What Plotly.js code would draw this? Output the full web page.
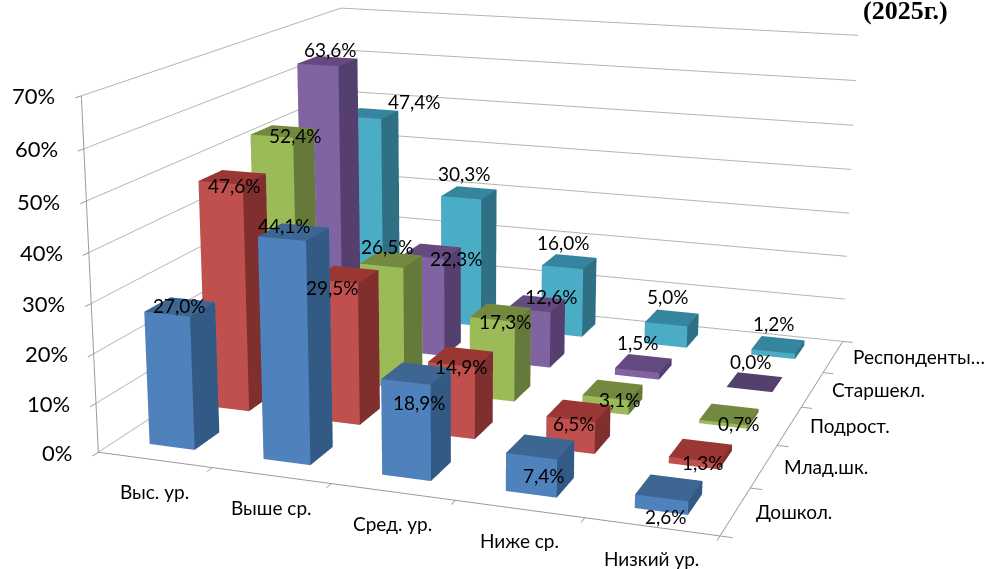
<!DOCTYPE html>
<html>
<head>
<meta charset="utf-8">
<script src="https://cdn.plot.ly/plotly-3.0.1.min.js"></script>
<style>
html,body{margin:0;padding:0;width:988px;height:569px;overflow:hidden;background:#fff}
#wrap{position:absolute;left:0;top:0;width:988px;height:569px;overflow:hidden}
#chart{position:absolute;left:-740px;top:-603px;width:2400px;height:1728px}
</style>
</head>
<body>
<div id="wrap"><div id="chart"></div></div>
<script>
var categories = ['Выс. ур.', 'Выше ср.', 'Сред. ур.', 'Ниже ср.', 'Низкий ур.'];
var seriesNames = ['Дошкол.', 'Млад.шк.', 'Подрост.', 'Старшекл.', 'Респонденты…'];
var doshkol = [27.0, 44.1, 18.9, 7.4, 2.6];
var mladshk = [47.6, 29.5, 14.9, 6.5, 1.3];
var podrost = [52.4, 26.5, 17.3, 3.1, 0.7];
var starshekl = [63.6, 22.3, 12.6, 1.5, 0.0];
var respondenty = [47.4, 30.3, 16.0, 5.0, 1.2];
var zTicks = [0, 10, 20, 30, 40, 50, 60, 70];
var titleText = '(2025г.)';

var seriesValues = [doshkol, mladshk, podrost, starshekl, respondenty];
var frontColors = ['#4F81BD', '#C0504D', '#9BBB59', '#8064A2', '#4BACC6'];
var sideColors = ['#335A85', '#7F2F2D', '#657A3A', '#553F6F', '#2F7085'];
var topColors = ['#3E6693', '#9A3633', '#72893F', '#644A80', '#35859F'];

// Pixel nudges of the data labels from their bar tops, series by series.
var labelDx = [[0, -9, 3, 3, -3], [3, -13, 1, -5, 2], [13, -3, 5, 7, 9], [3, 25, 15, -6, -4], [44, -4, -6, -4, -5]];
var labelDy = [[6, 0, 36, 35, 35], [15, 20, 17, 19, 18], [11, -6, 16, 16, 16], [-4, 14, 0, -14, -14], [-5, -12, -12, -14, -14]];

var W = 2400, H = 1728, OFFX = 740, OFFY = 603;
var barW = 0.40, barD = 0.44, barShiftX = -0.01, barShiftY = 0.03;

var traces = [];
var annotations = [];
var labelFont = {family: 'Lato, "Noto Sans", sans-serif', size: 19, color: '#000'};
var axisFont = {family: 'Lato, "Noto Sans", sans-serif', size: 19, color: '#000'};

seriesValues.forEach(function (vals, s) {
  var X = [], Y = [], Z = [], I = [], J = [], K = [], FC = [];
  vals.forEach(function (v, c) {
    var x0 = c + 0.5 + barShiftX - barW / 2, x1 = c + 0.5 + barShiftX + barW / 2;
    var y0 = s + 0.5 + barShiftY - barD / 2, y1 = s + 0.5 + barShiftY + barD / 2;
    var b = X.length;
    [[x0, y0, 0], [x1, y0, 0], [x1, y1, 0], [x0, y1, 0],
     [x0, y0, v], [x1, y0, v], [x1, y1, v], [x0, y1, v]].forEach(function (p) {
      X.push(p[0]); Y.push(p[1]); Z.push(p[2]);
    });
    var faces = [
      [0, 1, 5, frontColors[s]], [0, 5, 4, frontColors[s]],
      [1, 2, 6, sideColors[s]], [1, 6, 5, sideColors[s]],
      [4, 5, 6, topColors[s]], [4, 6, 7, topColors[s]],
      [3, 0, 4, sideColors[s]], [3, 4, 7, sideColors[s]],
      [2, 3, 7, frontColors[s]], [2, 7, 6, frontColors[s]],
      [0, 2, 1, sideColors[s]], [0, 3, 2, sideColors[s]]
    ];
    faces.forEach(function (f) {
      I.push(b + f[0]); J.push(b + f[1]); K.push(b + f[2]); FC.push(f[3]);
    });
    annotations.push({
      x: c + 0.5, y: s + 0.5, z: v, text: v.toFixed(1).replace('.', ',') + '%',
      showarrow: false, font: labelFont, xanchor: 'center', yanchor: 'middle',
      xshift: labelDx[s][c], yshift: 8 - labelDy[s][c]
    });
  });
  traces.push({
    type: 'mesh3d', x: X, y: Y, z: Z, i: I, j: J, k: K, facecolor: FC,
    flatshading: true, hoverinfo: 'skip', showscale: false,
    lighting: {ambient: 1, diffuse: 0, specular: 0, roughness: 1, fresnel: 0, facenormalsepsilon: 0},
    lightposition: {x: 0, y: 0, z: 1000}
  });
});

categories.forEach(function (t, c) {
  annotations.push({x: c + 0.5, y: 0, z: 0, text: t, showarrow: false, font: axisFont,
    xanchor: 'center', yanchor: 'middle', yshift: -32});
});
seriesNames.forEach(function (t, s) {
  annotations.push({x: 5, y: s + 0.5, z: 0, text: t, showarrow: false, font: axisFont,
    xanchor: 'left', yanchor: 'middle', xshift: 18});
});
zTicks.forEach(function (t) {
  annotations.push({x: 0, y: 0, z: t, text: t + '%', showarrow: false,
    font: {family: 'Lato, "Noto Sans", sans-serif', size: 22, color: '#000'},
    xanchor: 'right', yanchor: 'middle', xshift: -24});
});

function axis(extra) {
  return Object.assign({
    autorange: false, showgrid: false, zeroline: false, showline: true,
    linecolor: '#9a9a9a', linewidth: 2, ticks: 'outside', ticklen: 9, tickcolor: '#9a9a9a',
    tickwidth: 2, showticklabels: false, showspikes: false, showbackground: false,
    title: {text: ''}, tickmode: 'array'
  }, extra);
}

var layout = {
  width: W, height: H, margin: {l: 0, r: 0, t: 0, b: 0},
  paper_bgcolor: '#fff', showlegend: false,
  scene: {
    domain: {x: [0, 1], y: [0, 1]},
    aspectmode: 'manual', aspectratio: {x: 1, y: 0.993, z: 0.57},
    camera: {
      eye: {x: 1.097, y: -3.215, z: 0.858},
      center: {x: -0.060, y: -0.037, z: -0.048},
      up: {x: 0, y: 0, z: 1},
      projection: {type: 'perspective'}
    },
    xaxis: axis({range: [0, 5], tickvals: [0, 1, 2, 3, 4, 5]}),
    yaxis: axis({range: [0, 5], tickvals: [0, 1, 2, 3, 4, 5]}),
    zaxis: axis({range: [0, 70], tickvals: zTicks, showgrid: true, gridcolor: '#b4b4b4', gridwidth: 2}),
    annotations: annotations
  },
  annotations: [{
    xref: 'paper', yref: 'paper', x: (905 + OFFX) / W, y: 1 - (10 + OFFY) / H,
    text: '<b>' + titleText + '</b>', showarrow: false, xanchor: 'center', yanchor: 'middle',
    font: {family: '"Liberation Serif", serif', size: 26, color: '#000'}
  }]
};

Plotly.newPlot('chart', traces, layout, {displayModeBar: false, responsive: false});
</script>
</body>
</html>
